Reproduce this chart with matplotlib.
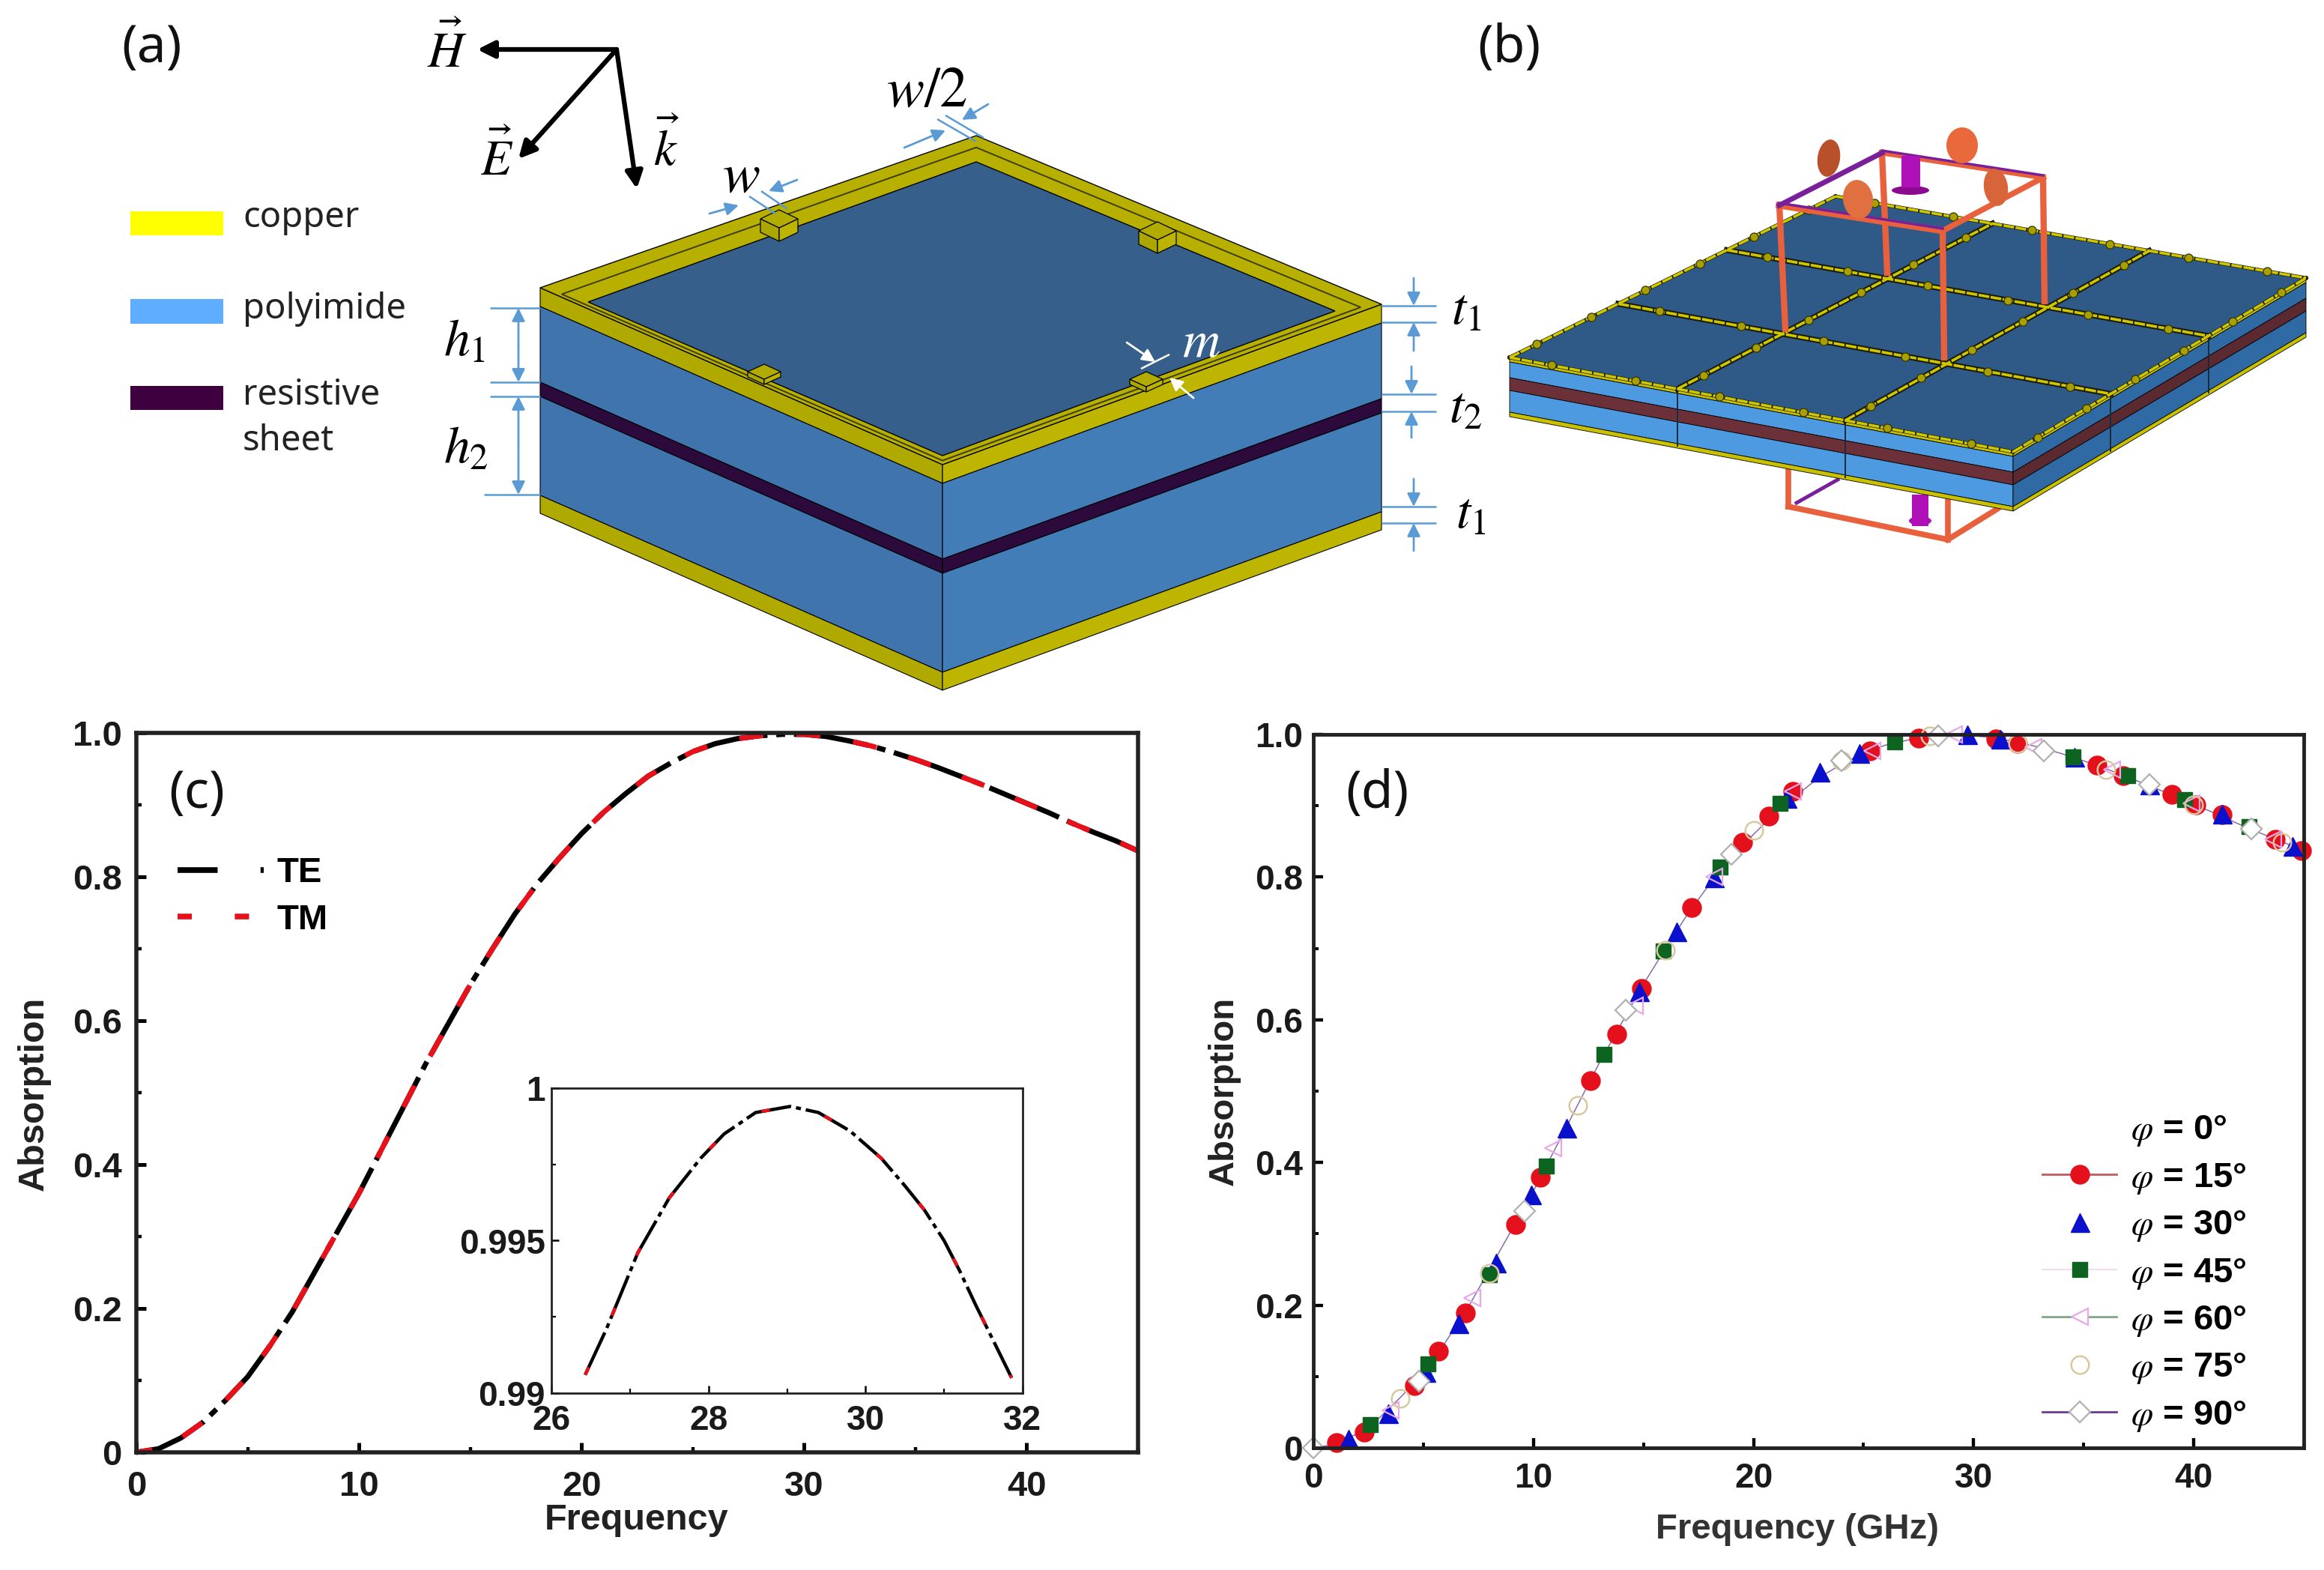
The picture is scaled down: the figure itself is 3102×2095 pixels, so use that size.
import matplotlib
matplotlib.use("Agg")
import matplotlib.pyplot as plt
from matplotlib.lines import Line2D
from matplotlib.patches import Ellipse, Polygon, Rectangle
from matplotlib.ticker import FixedLocator

W, H = 3102, 2095

plt.rcParams['font.family'] = ['Liberation Sans', 'DejaVu Sans']
plt.rcParams['mathtext.fontset'] = 'stix'

# (c) main curve, TE and TM sit on top of each other
freq_c = [0, 1, 2, 3, 4, 5, 6, 7, 8, 9, 10, 11, 12, 13, 14, 15, 16, 17, 18, 19, 20, 21, 22,
          23, 24, 25, 26, 27, 28, 29, 30, 31, 32, 33, 34, 35, 36, 37, 38, 39, 40, 41, 42, 43, 44, 45]
abs_te = [0, .005, .02, .042, .072, .105, .148, .195, .25, .305, .36, .42, .48, .54, .595, .65, .70, .748, .79, .826,
          .86, .89, .916, .94, .958, .974, .985, .992, .996, .998, .998, .995, .989, .982, .973, .963, .952, .94,
          .928, .915, .902, .889, .875, .862, .85, .836]
abs_tm = list(abs_te)

# (c) inset, close up of the peak
freq_in = [26.43, 26.7, 27.1, 27.5, 27.9, 28.2, 28.6, 29.04, 29.4, 29.8, 30.2, 30.5, 30.75, 31, 31.2, 31.4, 31.65, 31.86]
abs_in = [.9906, .9921, .9946, .9964, .9977, .9985, .9992, .9994, .9992, .9986, .9977, .9968, .9960, .9950, .9940,
          .9929, .9916, .9905]

# (d) one list per angle, read marker by marker
f15 = [1.05, 2.3, 4.6, 5.7, 6.9, 9.2, 10.3, 12.6, 13.8, 14.9, 17.2, 19.5, 20.7, 21.8, 25.3, 27.5, 31.0, 32, 35.6, 36.8, 39, 40.1, 41.3, 43.7, 44.9]
a15 = [.007, .022, .087, .135, .189, .313, .379, .515, .58, .644, .757, .849, .886, .92, .977, .995, .994, .987, .957, .942, .916, .901, .888, .853, .837]
f30 = [1.6, 3.4, 5.1, 6.6, 8.3, 9.9, 11.5, 14.8, 16.5, 18.2, 21.5, 23, 24.8, 29.7, 31.2, 34.6, 38, 41.3, 44.5]
a30 = [.013, .048, .106, .174, .259, .355, .449, .64, .724, .799, .911, .947, .974, 1.0, .994, .969, .93, .889, .843]
f45 = [2.6, 5.2, 8, 10.6, 13.2, 15.9, 18.5, 21.2, 26.4, 34.5, 37, 39.6, 42.5]
a45 = [.033, .118, .243, .395, .551, .696, .814, .903, .99, .969, .942, .909, .871]
f60 = [3.5, 7.2, 10.9, 14.6, 18.2, 21.8, 25.4, 29.1, 32.7, 36.3, 39.9, 43.6]
a60 = [.052, .21, .42, .62, .80, .92, .977, 1.0, .982, .951, .903, .853]
f75 = [3.95, 8, 12, 16, 20, 24, 28, 32, 36, 40, 44]
a75 = [.069, .245, .48, .697, .866, .963, .998, .987, .951, .901, .849]
f90 = [0, 4.8, 9.6, 14.2, 19, 24, 28.4, 33.2, 38, 42.6]
a90 = [0, .094, .332, .613, .832, .963, .998, .977, .93, .868]

# tick labels
x_ticks = [0, 10, 20, 30, 40]
y_ticks = [0, .2, .4, .6, .8, 1.0]
y_tick_labels = ['0', '0.2', '0.4', '0.6', '0.8', '1.0']
in_x_ticks = [26, 28, 30, 32]
in_y_ticks = [.99, .995, 1]
in_y_tick_labels = ['0.99', '0.995', '1']

legend_c = ['TE', 'TM']
legend_d = [r'$\varphi$ = 0°', r'$\varphi$ = 15°', r'$\varphi$ = 30°', r'$\varphi$ = 45°',
            r'$\varphi$ = 60°', r'$\varphi$ = 75°', r'$\varphi$ = 90°']


def axes_px(left, top, right, bottom):
    # axes from pixel edges of the reference
    return fig.add_axes([left / W, 1 - bottom / H, (right - left) / W, (bottom - top) / H])


def style_axes(ax, lw, size, xpad, ypad):
    for s in ax.spines.values():
        s.set_linewidth(lw)
        s.set_color('#222222')
    ax.tick_params(which='major', direction='in', length=9.5, width=lw * .9, labelsize=size)
    ax.tick_params(axis='x', which='major', pad=xpad)
    ax.tick_params(axis='y', which='major', pad=ypad)
    ax.tick_params(which='minor', direction='in', length=5, width=lw * .8)
    for t in ax.get_xticklabels() + ax.get_yticklabels():
        t.set_fontweight('bold')
        t.set_color('#1a1a1a')


fig = plt.figure(figsize=((W + .01) / 100, (H + .01) / 100), dpi=100, facecolor='white')

# ---------- panel (c) ----------
ax_c = axes_px(182, 978, 1519, 1938)
ax_c.plot(freq_c, abs_te, color='black', lw=5, ls=(0, (14.5, 1.7, 1.7, 1.7)), clip_on=False)
ax_c.plot(freq_c, abs_tm, color='#e8101a', lw=5, ls=(1.5, (4.6, 6.4)), clip_on=False)
ax_c.set_xlim(0, 45)
ax_c.set_ylim(0, 1)
ax_c.set_xticks(x_ticks)
ax_c.set_yticks(y_ticks, y_tick_labels)
ax_c.xaxis.set_minor_locator(FixedLocator([5, 15, 25, 35, 45]))
ax_c.yaxis.set_minor_locator(FixedLocator([.1, .3, .5, .7, .9]))
style_axes(ax_c, 4, 34, 17, 14)
ax_c.set_xlabel('Frequency', fontsize=35, fontweight='bold', color='#222222', va='center')
ax_c.xaxis.set_label_coords(.499, -.094)
ax_c.set_ylabel('Absorption', fontsize=35, fontweight='bold', color='#222222', va='center')
ax_c.yaxis.set_label_coords(-.102, .499)
te_h = Line2D([], [], color='black', lw=5.5, ls=(0, (7, 7.5, 1.5, 9)))
tm_h = Line2D([], [], color='#e8101a', lw=5.5, ls=(0, (2.5, 7.5)))
ax_c.legend([te_h, tm_h], legend_c, loc='upper left', bbox_to_anchor=(.041, .828), frameon=False,
            handlelength=2.44, handletextpad=.38, labelspacing=.4, prop={'weight': 'bold', 'size': 34}, borderpad=0, borderaxespad=0)

ax_in = axes_px(736, 1452, 1365, 1859)
ax_in.plot(freq_in, abs_in, color='black', lw=3.2, ls=(0, (14, 1.5, 1.5, 1.5)), clip_on=False)
ax_in.plot(freq_in, abs_in, color='#e8101a', lw=3.2, ls=(0, (2.5, 17)), clip_on=False)
ax_in.set_xlim(26, 32)
ax_in.set_ylim(.99, 1)
ax_in.set_xticks(in_x_ticks)
ax_in.set_yticks(in_y_ticks, in_y_tick_labels)
ax_in.xaxis.set_minor_locator(FixedLocator([27, 29, 31]))
ax_in.yaxis.set_minor_locator(FixedLocator([.9925, .9975]))
style_axes(ax_in, 2, 33, 11, 6)
ax_in.tick_params(which='major', length=7)
ax_in.tick_params(which='minor', length=4)

# ---------- panel (d) ----------
ax_d = axes_px(1753, 980, 3075, 1932)
# the thin line all angles share
ax_d.plot(freq_c, abs_te, color='#8a6aa8', lw=1.1, clip_on=False)
ax_d.plot(f15, a15, ls='none', marker='o', ms=18, mfc='#e4101c', mec='#e4101c', clip_on=False)
ax_d.plot(f30, a30, ls='none', marker='^', ms=18, mfc='#0a10cc', mec='#0a10cc', clip_on=False)
ax_d.plot(f45, a45, ls='none', marker='s', ms=14, mfc='#0d6420', mec='#0d6420', clip_on=False)
ax_d.plot(f60, a60, ls='none', marker='<', ms=16, mfc='none', mec='#e8a8e8', mew=1.6, clip_on=False)
ax_d.plot(f75, a75, ls='none', marker='o', ms=17, mfc='none', mec='#d8c8a0', mew=1.8, clip_on=False)
ax_d.plot(f90, a90, ls='none', marker='D', ms=14, mfc='white', mec='#b0b0b0', mew=1.6, clip_on=False)
ax_d.set_xlim(0, 45)
ax_d.set_ylim(0, 1)
ax_d.set_xticks(x_ticks)
ax_d.set_yticks(y_ticks, y_tick_labels)
ax_d.xaxis.set_minor_locator(FixedLocator([5, 15, 25, 35, 45]))
ax_d.yaxis.set_minor_locator(FixedLocator([.1, .3, .5, .7, .9]))
style_axes(ax_d, 3.5, 33, 14, 10)
ax_d.set_xlabel('Frequency (GHz)', fontsize=34, fontweight='bold', color='#333333', va='center')
ax_d.xaxis.set_label_coords(.489, -.1146)
ax_d.set_ylabel('Absorption', fontsize=34, fontweight='bold', color='#222222', va='center')
ax_d.yaxis.set_label_coords(-.09, .5)
handles_d = [
    Line2D([], [], ls='none'),
    Line2D([], [], color='#c25a5a', lw=2, marker='o', ms=18, mfc='#e4101c', mec='#e4101c'),
    Line2D([], [], ls='none', marker='^', ms=18, mfc='#0a10cc', mec='#0a10cc'),
    Line2D([], [], color='#f0dcec', lw=1.5, marker='s', ms=14, mfc='#0d6420', mec='#0d6420'),
    Line2D([], [], color='#7fa886', lw=2, marker='<', ms=16, mfc='white', mec='#e8a8e8', mew=1.6),
    Line2D([], [], ls='none', marker='o', ms=17, mfc='none', mec='#d8c8a0', mew=1.8),
    Line2D([], [], color='#6a3a94', lw=2, marker='D', ms=14, mfc='white', mec='#b0b0b0', mew=1.6),
]
ax_d.legend(handles_d, legend_d, loc='lower right', bbox_to_anchor=(.9425, .02), frameon=False, handlelength=2.1, handletextpad=.4,
            labelspacing=.37, prop={'weight': 'bold', 'size': 34}, borderpad=0, borderaxespad=0)

# ---------- overlay in reference pixels, for the schematics ----------
ov = fig.add_axes([0, 0, 1, 1], zorder=5)
ov.set_xlim(0, W)
ov.set_ylim(H, 0)
ov.axis('off')


def poly(pts, fc, ec='black', lw=1.0, z=2):
    ov.add_patch(Polygon(pts, closed=True, fc=fc, ec=ec, lw=lw, zorder=z))


def lerp(a, b, t):
    return (a[0] + (b[0] - a[0]) * t, a[1] + (b[1] - a[1]) * t)


def dim_arrow(start, end, color='#5b9bd5', lw=2.0, z=6):
    ov.annotate('', xy=end, xytext=start, zorder=z,
                arrowprops=dict(arrowstyle='-|>', color=color, lw=lw, mutation_scale=26, shrinkA=0, shrinkB=0))


def dim_line(a, b, color='#5b9bd5', lw=1.8):
    ov.plot([a[0], b[0]], [a[1], b[1]], color=color, lw=lw, zorder=6, solid_capstyle='butt')


def layers(p0, p1, offs, colors, lw=.8, z=2):
    # side wall of the slab, stacked strips going down
    for k, col in enumerate(colors):
        poly([(p0[0], p0[1] + offs[k]), (p1[0], p1[1] + offs[k]),
              (p1[0], p1[1] + offs[k + 1]), (p0[0], p0[1] + offs[k + 1])], col, lw=lw, z=z)


def pedestal(cx, cy, rx=25, ry=12, h=18, col='#b3ac00'):
    poly([(cx - rx, cy), (cx, cy + ry), (cx, cy + ry + h), (cx - rx, cy + h)], '#aca600', lw=.9, z=4)
    poly([(cx, cy + ry), (cx + rx, cy), (cx + rx, cy + h), (cx, cy + ry + h)], '#bcb400', lw=.9, z=4)
    poly([(cx - rx, cy), (cx, cy - ry), (cx + rx, cy), (cx, cy + ry)], col, lw=.9, z=4)


# legend of panel (a)
ov.add_patch(Rectangle((174, 282), 124, 32, fc='#ffff00', ec='none'))
ov.add_patch(Rectangle((174, 399), 124, 33, fc='#5fadff', ec='none'))
ov.add_patch(Rectangle((174, 515), 124, 32, fc='#3f0040', ec='none'))
for txt, y in [('copper', 290), ('polyimide', 412), ('resistive', 527), ('sheet', 588)]:
    ov.text(324, y, txt, family='Noto Sans', fontsize=34, va='center', ha='left', color='#222222', zorder=6)

# unit cell of panel (a)
L, B, R, F = (721, 384), (1303, 181), (1844, 406), (1258, 620)
offs_a = [0, 25, 126, 145, 277, 301]
layers(L, F, offs_a, ['#b0a900', '#3f74ad', '#2d0a3c', '#3f74ad', '#b0a900'])
layers(F, R, offs_a, ['#bdb500', '#437db8', '#2d0a3c', '#437db8', '#bdb500'])
poly([L, B, R, F], '#b8b000', lw=1.0)
inner = [(785, 403), (1303, 216), (1782, 415), (1258, 608)]
groove = [lerp(o, i, .45) for o, i in zip([L, B, R, F], inner)]
poly(groove, 'none', ec='#3d3d10', lw=1.4)
poly(inner, '#365f8c', lw=1.0, z=3)
for cx, cy in [(1040, 292), (1545, 308)]:
    pedestal(cx, cy)
for cx, cy in [(1530, 506), (1020, 496)]:
    pedestal(cx, cy, rx=22, ry=10, h=7)

# wave vectors
for end in [(637, 66), (692, 212), (850, 252)]:
    ov.annotate('', xy=end, xytext=(823, 66), zorder=6,
                arrowprops=dict(arrowstyle='-|>', color='black', lw=4.5, mutation_scale=34, shrinkA=0, shrinkB=0))
ov.text(597, 68, r'$\vec{H}$', fontsize=48, ha='center', va='center', zorder=6)
ov.text(663, 212, r'$\vec{E}$', fontsize=48, ha='center', va='center', zorder=6)
ov.text(890, 198, r'$\vec{k}$', fontsize=48, ha='center', va='center', zorder=6)

# dimensions left side
dim_line((654, 411), (721, 411))
dim_line((654, 510), (721, 510))
dim_line((654, 529), (721, 529))
dim_line((646, 660), (721, 660))
dim_arrow((692, 460), (692, 411))
dim_arrow((692, 460), (692, 510))
dim_arrow((692, 595), (692, 529))
dim_arrow((692, 595), (692, 660))
ov.text(620, 457, r'$h_1$', fontsize=50, ha='center', va='center', zorder=6)
ov.text(622, 600, r'$h_2$', fontsize=50, ha='center', va='center', zorder=6)

# dimensions right side
for y0, y1, x, top, bot, lab, ly, lx in [(408, 430, 1887, 371, 468, r'$t_1$', 415, 1957),
                                         (526, 549, 1884, 489, 584, r'$t_2$', 546, 1956),
                                         (676, 698, 1887, 639, 735, r'$t_1$', 687, 1963)]:
    dim_line((1844, y0), (1917, y0))
    dim_line((1844, y1), (1917, y1))
    dim_arrow((x, top), (x, y0))
    dim_arrow((x, bot), (x, y1))
    ov.text(lx, ly, lab, fontsize=50, ha='center', va='center', zorder=6)

# w, w/2 and m
dim_arrow((1064, 240), (1026, 255))
dim_arrow((947, 285), (986, 274))
dim_line((1016, 255), (1051, 279))
dim_line((1000, 262), (1035, 285))
ov.text(989, 236, r'$w$', fontsize=54, ha='center', va='center', zorder=6)
dim_arrow((1319, 139), (1284, 160))
dim_arrow((1207, 197), (1262, 174))
dim_line((1251, 159), (1303, 189))
dim_line((1262, 154), (1313, 184))
ov.text(1237, 122, r'$w/2$', fontsize=54, ha='center', va='center', zorder=6)
dim_arrow((1504, 457), (1542, 483), color='white')
dim_arrow((1593, 531), (1561, 504), color='white')
dim_line((1523, 492), (1561, 473), color='white')
ov.text(1603, 458, r'$m$', fontsize=50, color='white', ha='center', va='center', zorder=6)

# array of panel (b)
AL, AB, AR, AF = (2015, 477), (2450, 262), (3078, 371), (2687, 603)
offs_b = [0, 6, 27, 44, 73, 79]
ORANGE = '#e8603c'
PURPLE = '#7a1f9a'
MAGENTA = '#b010b8'


def grid_pt(u, v):
    # u runs left->back, v runs left->front on the top face
    return lerp(lerp(AL, AF, v), lerp(AB, AR, v), u)


# lower frame goes behind the slab
for a, b in [((2387, 628), (2387, 676)), ((2387, 676), (2600, 720)), ((2600, 666), (2600, 720)), ((2600, 720), (2666, 679))]:
    ov.plot([a[0], b[0]], [a[1], b[1]], color=ORANGE, lw=5.5, zorder=1.5)
ov.plot([2398, 2453], [671, 640], color=PURPLE, lw=3.5, zorder=1.5)
ov.add_patch(Rectangle((2552, 660), 22, 42, fc=MAGENTA, ec='none', zorder=1.6))
ov.add_patch(Ellipse((2563, 695), 30, 12, fc=MAGENTA, ec='none', zorder=1.6))

layers(AL, AF, offs_b, ['#c8c000', '#4e9ae0', '#6b3038', '#4e9ae0', '#c8c000'], lw=.6)
layers(AF, AR, offs_b, ['#c8c000', '#2f6aa5', '#5a2a30', '#2f6aa5', '#c8c000'], lw=.6)
for t in [1 / 3, 2 / 3]:
    for a, b in [(AL, AF), (AF, AR)]:
        p = lerp(a, b, t)
        ov.plot([p[0], p[0]], [p[1], p[1] + 76], color='#1a2a3a', lw=1.4, zorder=2.5)
poly([AL, AB, AR, AF], '#2f5a87', ec='#222200', lw=1.0)
for k in range(4):
    t = k / 3
    outer = k in (0, 3)
    for a, b in [(grid_pt(t, 0), grid_pt(t, 1)), (grid_pt(0, t), grid_pt(1, t))]:
        ov.plot([a[0], b[0]], [a[1], b[1]], color='#1a1a08', lw=3.6 if outer else 5.5, zorder=2.6)
        ov.plot([a[0], b[0]], [a[1], b[1]], color='#cfc700', lw=2.6, ls=(0, (4, .5)), zorder=2.7)
for i in range(3):
    for j in range(4):
        # little pads on the grid lines, two per tile edge
        for frac in [.25, .75]:
            p = grid_pt((i + frac) / 3, j / 3)
            q = grid_pt(j / 3, (i + frac) / 3)
            ov.plot([p[0], q[0]], [p[1], q[1]], ls='none', marker='o', ms=8, mfc='#a8a000', mec='#333300', mew=.9, zorder=2.8)

# upper frame with probes
TL, TB, TR, TF = (2375, 274), (2512, 204), (2727, 237), (2593, 308)
for top, foot in [(TB, (2519, 364)), (TR, (2729, 402)), (TL, (2383, 439)), (TF, (2595, 477))]:
    ov.plot([top[0], foot[0]], [top[1], foot[1]], color=ORANGE, lw=6, zorder=3.2)
ov.plot([TL[0], TF[0]], [TL[1], TF[1]], color=ORANGE, lw=6.5, zorder=3.3)
ov.plot([TF[0], TR[0]], [TF[1], TR[1]], color=ORANGE, lw=5.5, zorder=3.3)
ov.plot([TB[0], TR[0]], [TB[1], TR[1]], color=ORANGE, lw=5, zorder=3.3)
ov.plot([TL[0], TB[0]], [TL[1], TB[1]], color=PURPLE, lw=5, zorder=3.4)
ov.plot([TL[0], TF[0]], [TL[1] - 3, TF[1] - 3], color=PURPLE, lw=2.5, zorder=3.4)
ov.plot([TB[0], TR[0]], [TB[1] - 3, TR[1] - 3], color=PURPLE, lw=2.5, zorder=3.4)
ov.add_patch(Ellipse((2441, 211), 30, 50, angle=8, fc='#b8502a', ec='none', zorder=3.5))
ov.add_patch(Ellipse((2619, 194), 42, 48, fc='#e9683c', ec='none', zorder=3.5))
ov.add_patch(Ellipse((2480, 266), 40, 52, angle=-8, fc='#e07040', ec='none', zorder=3.5))
ov.add_patch(Ellipse((2664, 250), 32, 50, angle=-8, fc='#d8643a', ec='none', zorder=3.5))
ov.add_patch(Ellipse((2550, 254), 50, 12, fc='#8a0a90', ec='none', zorder=3.5))
ov.add_patch(Rectangle((2538, 208), 25, 42, fc=MAGENTA, ec='none', zorder=3.5))

# panel letters
for txt, x, y in [('(a)', 202, 65), ('(b)', 2014, 65), ('(c)', 263, 1060), ('(d)', 1838, 1060)]:
    ov.text(x, y, txt, family='Noto Sans', fontsize=50, ha='center', va='center', color='#111111', zorder=7)

fig.savefig('out.png', dpi=100)
